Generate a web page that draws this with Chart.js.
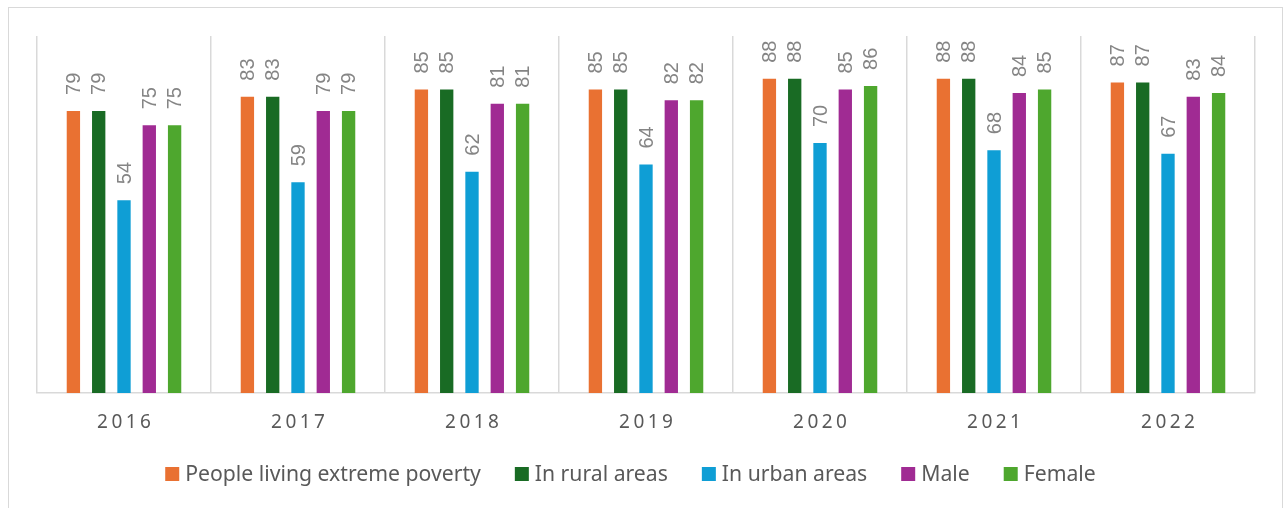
<!DOCTYPE html>
<html><head><meta charset="utf-8">
<style>html,body{margin:0;padding:0;background:#fff;overflow:hidden}</style>
<script src="https://cdn.jsdelivr.net/npm/chart.js@4.4.1/dist/chart.umd.min.js"></script>
</head><body>
<canvas id="c" width="1284" height="508" style="display:block;width:1284px;height:508px"></canvas>
<script>
const categories = ['2016','2017','2018','2019','2020','2021','2022'];
const seriesNames = ['People living extreme poverty','In rural areas','In urban areas','Male','Female'];
const povertyAll = [79,83,85,85,88,88,87];
const ruralAreas = [79,83,85,85,88,88,87];
const urbanAreas = [54,59,62,64,70,68,67];
const maleValues = [75,79,81,82,85,84,83];
const femaleValues = [75,79,81,82,86,85,84];
const yMin = 0, yMax = 100;

const seriesData = [povertyAll, ruralAreas, urbanAreas, maleValues, femaleValues];
const colors = ['#E97132','#196B24','#0F9ED5','#A02B93','#4EA72E'];

const frame = {
  id:'frame',
  beforeDraw(chart){
    const ctx = chart.ctx;
    ctx.save();
    ctx.strokeStyle = '#d9d9d9';
    ctx.lineWidth = 1;
    ctx.strokeRect(8.5, 7.5, 1274, 560);
    ctx.restore();
  }
};

const barLabels = {
  id:'barLabels',
  afterDatasetsDraw(chart){
    const ctx = chart.ctx;
    ctx.save();
    ctx.font = '20px "Liberation Sans", Arial, sans-serif';
    ctx.fillStyle = '#858585';
    ctx.textAlign = 'left';
    ctx.textBaseline = 'middle';
    chart.data.datasets.forEach((ds, i) => {
      const meta = chart.getDatasetMeta(i);
      meta.data.forEach((bar, j) => {
        ctx.save();
        ctx.translate(bar.x + 1, bar.y - 16);
        ctx.rotate(-Math.PI / 2);
        ctx.fillText(String(ds.data[j]), 0, 0);
        ctx.restore();
      });
    });
    ctx.restore();
  }
};

const xLabels = {
  id:'xLabels',
  afterDraw(chart){
    const ctx = chart.ctx;
    const sc = chart.scales.x;
    const ls = 3.5;
    ctx.save();
    ctx.font = '19px "Noto Sans", "Open Sans", sans-serif';
    ctx.fillStyle = '#595959';
    ctx.textAlign = 'center';
    ctx.textBaseline = 'middle';
    try { ctx.letterSpacing = ls + 'px'; } catch(e) {}
    categories.forEach((c, i) => {
      ctx.fillText(c, sc.getPixelForTick(i) + ls / 2, chart.chartArea.bottom + 29.5);
    });
    ctx.restore();
  }
};

const bottomLegend = {
  id:'bottomLegend',
  afterDraw(chart){
    const ctx = chart.ctx;
    const box = 14, textGap = 6, itemGap = 34;
    const cy = chart.chartArea.bottom + 81;
    ctx.save();
    ctx.font = '21.2px "Noto Sans", "Open Sans", sans-serif';
    ctx.textBaseline = 'middle';
    ctx.textAlign = 'left';
    const items = chart.data.datasets.map(ds => ({ text: ds.label, color: ds.backgroundColor, w: ctx.measureText(ds.label).width }));
    const total = items.reduce((s, it) => s + box + textGap + it.w, 0) + itemGap * (items.length - 1);
    let x = 630.5 - total / 2;
    items.forEach(it => {
      ctx.fillStyle = it.color;
      ctx.fillRect(x, cy - box / 2, box, box);
      ctx.fillStyle = '#595959';
      ctx.fillText(it.text, x + box + textGap, cy + 0.5);
      x += box + textGap + it.w + itemGap;
    });
    ctx.restore();
  }
};

new Chart(document.getElementById('c'), {
  type: 'bar',
  data: {
    labels: categories,
    datasets: seriesNames.map((n, i) => ({
      label: n,
      data: seriesData[i],
      backgroundColor: colors[i],
      borderWidth: 0,
      barPercentage: 0.527,
      categoryPercentage: 0.727
    }))
  },
  options: {
    responsive: false,
    devicePixelRatio: 1,
    animation: false,
    layout: { padding: { left: 37, right: 29, top: 36, bottom: 83 } },
    plugins: {
      legend: { display: false },
      tooltip: { enabled: false }
    },
    scales: {
      x: {
        grid: { color: '#d9d9d9', lineWidth: 1.5, offset: true, drawTicks: false },
        border: { color: '#d9d9d9', width: 1.5 },
        ticks: { display: false },
        afterFit(scale){ scale.height = 32; }
      },
      y: {
        display: false,
        min: yMin, max: yMax
      }
    }
  },
  plugins: [frame, barLabels, xLabels, bottomLegend]
});
</script>
</body></html>
